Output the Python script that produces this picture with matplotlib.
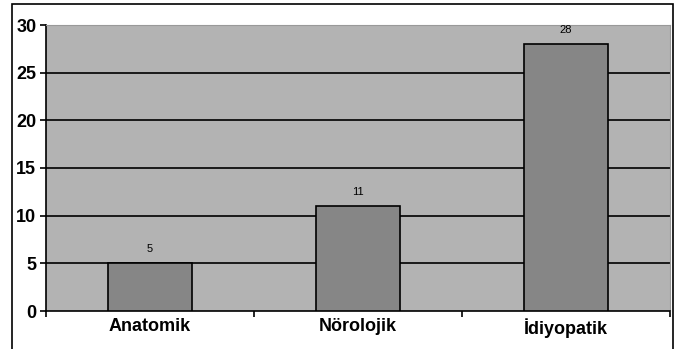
import matplotlib
matplotlib.use("Agg")
import matplotlib.pyplot as plt
import matplotlib.transforms as mtransforms
from matplotlib.patches import Rectangle

plt.rcParams['font.family'] = ['Liberation Sans', 'DejaVu Sans']

categories = ['Anatomik', 'Nörolojik', 'İdiyopatik']
values = [5, 11, 28]

fig = plt.figure(figsize=(6.78, 3.49), dpi=100)
ax = fig.add_axes([46/678, 38/349, 624/678, 286/349])
ax.set_facecolor('#b3b3b3')

x = [0, 1, 2]
ax.bar(x, values, width=0.4, color='#868686', edgecolor='black', linewidth=1.2, zorder=3)
for xi, v in zip(x, values):
    ax.text(xi, v + 1.0, str(v), ha='center', va='bottom', fontsize=8, zorder=4)

ax.set_xlim(-0.5, 2.5)
ax.set_ylim(0, 30)
ax.set_yticks(range(0, 31, 5))
ax.set_yticklabels([str(t) for t in range(0, 31, 5)], fontsize=13, fontweight='bold')
for y in range(5, 30, 5):
    ax.axhline(y, color='black', linewidth=1.2, zorder=2)

# nudge y labels up a bit like the original
off = mtransforms.ScaledTranslation(0, 3/100, fig.dpi_scale_trans)
for lbl in ax.get_yticklabels():
    lbl.set_transform(lbl.get_transform() + off)

ax.set_xticks([-0.5, 0.5, 1.5, 2.5])
ax.set_xticklabels([])
ax.set_xticks(x, minor=True)
ax.set_xticklabels(categories, minor=True, fontsize=13, fontweight='bold')
ax.tick_params(axis='x', which='minor', length=0, pad=5)
ax.tick_params(axis='x', which='major', length=4, width=1.2, direction='out')
ax.tick_params(axis='y', length=4, width=1.2, direction='out', pad=3)

ax.spines['left'].set_linewidth(1.2)
ax.spines['bottom'].set_linewidth(1.2)
ax.spines['top'].set_color('#999999')
ax.spines['right'].set_color('#999999')

fig.patches.append(Rectangle((12/678, -0.05), 661/678, 1.05 - 4/349, transform=fig.transFigure,
                             fill=False, edgecolor='black', linewidth=1.2))

fig.savefig('out.png', dpi=100)
